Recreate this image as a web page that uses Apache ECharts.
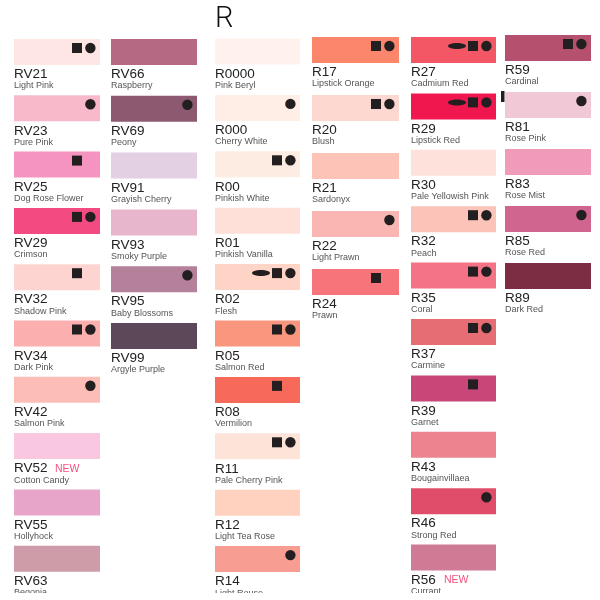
<!DOCTYPE html>
<html>
<head>
<meta charset="utf-8">
<script src="https://cdn.jsdelivr.net/npm/echarts@6/dist/echarts.min.js"></script>
<style>
  html, body { margin: 0; padding: 0; background: #fff; }
  #main { width: 600px; height: 600px; }
</style>
</head>
<body>
<div id="main"></div>
<script>
const pageTitle = "R";
const columnSizes = [10, 6, 10, 5, 10, 5];
const codes = [
  "RV21", "RV23", "RV25", "RV29", "RV32", "RV34", "RV42", "RV52", "RV55", "RV63",
  "RV66", "RV69", "RV91", "RV93", "RV95", "RV99",
  "R0000", "R000", "R00", "R01", "R02", "R05", "R08", "R11", "R12", "R14",
  "R17", "R20", "R21", "R22", "R24",
  "R27", "R29", "R30", "R32", "R35", "R37", "R39", "R43", "R46", "R56",
  "R59", "R81", "R83", "R85", "R89",
];
const names = [
  "Light Pink", "Pure Pink", "Dog Rose Flower", "Crimson", "Shadow Pink", "Dark Pink", "Salmon Pink", "Cotton Candy", "Hollyhock", "Begonia",
  "Raspberry", "Peony", "Grayish Cherry", "Smoky Purple", "Baby Blossoms", "Argyle Purple",
  "Pink Beryl", "Cherry White", "Pinkish White", "Pinkish Vanilla", "Flesh", "Salmon Red", "Vermilion", "Pale Cherry Pink", "Light Tea Rose", "Light Rouse",
  "Lipstick Orange", "Blush", "Sardonyx", "Light Prawn", "Prawn",
  "Cadmium Red", "Lipstick Red", "Pale Yellowish Pink", "Peach", "Coral", "Carmine", "Garnet", "Bougainvillaea", "Strong Red", "Currant",
  "Cardinal", "Rose Pink", "Rose Mist", "Rose Red", "Dark Red",
];
const swatches = [
  "#FEE6E5", "#F8BACB", "#F594C0", "#F34A82", "#FDD4D0", "#FBAFAF", "#FCBDB6", "#F9C8E0", "#E7A6C9", "#CE9CA9",
  "#B66983", "#8C5971", "#E3D0E2", "#E8B6CC", "#B58099", "#5C4858",
  "#FFF1EC", "#FEEEE6", "#FDECE2", "#FFE0D9", "#FED4C7", "#FA957E", "#F76A5A", "#FDE3D8", "#FED2BF", "#F89D92",
  "#FC866B", "#FDD8D0", "#FDC3B6", "#F9B6B3", "#F6747A",
  "#F35765", "#F0174F", "#FEE1DB", "#FCC3B9", "#F57386", "#E66D73", "#C94778", "#EE8390", "#E04D6A", "#D07B96",
  "#B5506F", "#F1C8D6", "#F09BB9", "#D06690", "#7C2C43",
];
// e = ellipse, s = square, c = circle
const nibs = [
  "sc", "c", "s", "sc", "s", "sc", "c", "", "", "",
  "", "c", "", "", "c", "",
  "", "c", "sc", "", "esc", "sc", "s", "sc", "", "c",
  "sc", "sc", "", "c", "s",
  "esc", "esc", "", "sc", "sc", "sc", "s", "", "c", "",
  "sc", "c", "", "c", "",
];
const newCodes = ["RV52", "R56"];

// layout of the six columns, kept apart from the data
const columnLeft = [14, 111, 215, 312, 411, 505];
const columnTop = [39, 39, 38.5, 37, 37, 35];
const columnPitch = [56.3, 56.8, 56.4, 58, 56.4, 57];
const columnWidth = [86, 86, 85, 87, 85, 86];
const swatchHeight = 26;
const newOffset = { RV52: 41, R56: 33 };

const textFont = '"Liberation Sans", Arial, sans-serif';

const renderSwatch = (start) => (params, api) => {
  const i = start + params.dataIndex;
  const center = api.coord([0, api.value(1)]);
  const pitch = api.size([0, 1])[1];
  const width = api.size([1, 0])[0];
  const left = center[0];
  const top = center[1] - pitch / 2;
  const right = left + width;
  const nibY = top + 9;
  const children = [
    {
      type: "rect",
      shape: { x: left, y: top, width: width, height: swatchHeight },
      style: { fill: swatches[i] },
    },
    {
      type: "text",
      style: {
        text: codes[i], x: left, y: top + 35.5, fill: "#222",
        font: "13.5px " + textFont, verticalAlign: "middle",
      },
    },
    {
      type: "text",
      style: {
        text: names[i], x: left, y: top + 47, fill: "#555",
        font: "9px " + textFont, verticalAlign: "middle",
      },
    },
  ];
  if (nibs[i].includes("c")) {
    children.push({
      type: "circle",
      shape: { cx: right - 9.6, cy: nibY, r: 5.2 },
      style: { fill: "#231f20" },
    });
  }
  if (nibs[i].includes("s")) {
    children.push({
      type: "rect",
      shape: { x: right - 28, y: nibY - 5, width: 10, height: 10 },
      style: { fill: "#231f20" },
    });
  }
  if (nibs[i].includes("e")) {
    children.push({
      type: "ellipse",
      shape: { cx: right - 39, cy: nibY, rx: 9, ry: 3 },
      style: { fill: "#231f20" },
    });
  }
  if (newCodes.includes(codes[i])) {
    children.push({
      type: "text",
      style: {
        text: "NEW", x: left + newOffset[codes[i]], y: top + 36, fill: "#F4527F",
        font: "10.5px " + textFont, verticalAlign: "middle",
      },
    });
  }
  return { type: "group", children: children };
};

const grids = [], xAxes = [], yAxes = [], seriesList = [];
let start = 0;
columnSizes.forEach((size, col) => {
  const rows = codes.slice(start, start + size);
  grids.push({
    left: columnLeft[col],
    top: columnTop[col],
    width: columnWidth[col],
    height: columnPitch[col] * size,
    outerBoundsMode: "none", // the last row runs past the canvas, do not shrink
  });
  xAxes.push({ type: "value", gridIndex: col, min: 0, max: 1, show: false });
  yAxes.push({ type: "category", gridIndex: col, data: rows, inverse: true, show: false });
  seriesList.push({
    type: "custom",
    xAxisIndex: col,
    yAxisIndex: col,
    clip: false,
    silent: true,
    data: rows.map((code, row) => [0, row]),
    renderItem: renderSwatch(start),
  });
  start += size;
});

const myChart = echarts.init(document.getElementById("main"));
myChart.setOption({
  animation: false,
  backgroundColor: "#fff",
  title: {
    text: pageTitle,
    left: 210,
    top: 0,
    textStyle: { color: "#111", fontFamily: "Roboto", fontWeight: 300, fontSize: 29 },
  },
  grid: grids,
  xAxis: xAxes,
  yAxis: yAxes,
  series: seriesList,
  graphic: [
    // stray tick next to R81 and the white strip that cuts the last row
    { type: "rect", z: 100, shape: { x: 501, y: 91, width: 3.5, height: 11 }, style: { fill: "#231f20" } },
    { type: "rect", z: 100, shape: { x: 0, y: 593, width: 600, height: 7 }, style: { fill: "#fff" } },
  ],
});
</script>
</body>
</html>
